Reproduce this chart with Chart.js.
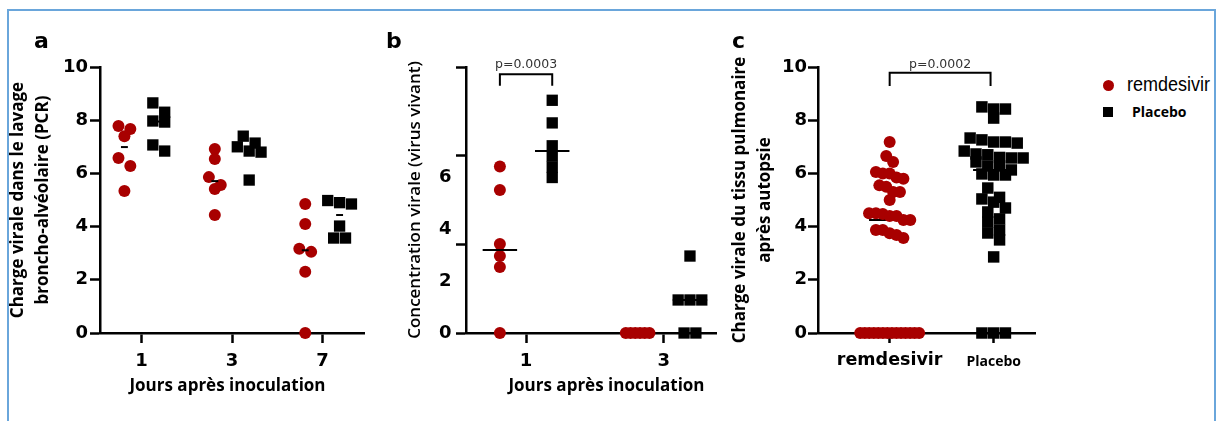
<!DOCTYPE html>
<html lang="fr">
<head>
<meta charset="utf-8">
<title>Remdesivir – charge virale</title>
<script src="https://cdn.jsdelivr.net/npm/chart.js@4.4.1/dist/chart.umd.min.js"></script>
<style>
html,body{margin:0;padding:0;background:#fff;}
body{width:1217px;height:421px;overflow:hidden;position:relative;}
#frame{position:absolute;left:7px;top:9px;width:1205px;height:420px;border:2px solid #6aa6db;border-bottom:none;}
canvas{position:absolute;top:0;}
#ca{left:0;} #cb{left:372px;} #cc{left:724px;}
.pl{position:absolute;top:30px;font-family:"DejaVu Sans";font-weight:bold;font-size:22px;line-height:22px;color:#000;}
.lg{position:absolute;white-space:nowrap;color:#000;}
</style>
</head>
<body>
<div id="frame"></div>
<canvas id="ca" width="372" height="421"></canvas>
<canvas id="cb" width="352" height="421"></canvas>
<canvas id="cc" width="320" height="421"></canvas>
<div class="pl" style="left:34px">a</div>
<div class="pl" style="left:386px">b</div>
<div class="pl" style="left:732px">c</div>
<div class="lg" style="left:1102.5px;top:80px;width:11px;height:11px;border-radius:50%;background:#a80000"></div>
<div class="lg" style="left:1127px;top:74px;font-family:'Liberation Sans';font-size:20px;line-height:20px;transform:scaleX(0.9);transform-origin:0 0">remdesivir</div>
<div class="lg" style="left:1103px;top:107px;width:10px;height:10px;background:#000"></div>
<div class="lg" style="left:1132px;top:102px;font-family:'Open Sans';font-weight:bold;font-size:14px;line-height:20px">Placebo</div>
<script>
// ---------------- Data ----------------
const aDays = ['1', '3', '7'];
const aRemdesivir = [
  [7.78, 7.67, 7.40, 6.58, 6.28, 5.34],
  [6.92, 6.54, 5.86, 5.56, 5.41, 4.44],
  [4.85, 4.10, 3.17, 3.05, 2.30, 0]
];
const aPlacebo = [
  [8.65, 8.30, 7.97, 7.93, 7.07, 6.84],
  [7.40, 7.14, 7.00, 6.84, 6.80, 5.75],
  [4.98, 4.90, 4.85, 4.02, 3.57, 3.57]
];
const acYTicks = [0, 2, 4, 6, 8, 10];

const bDays = ['1', '3'];
const bRemdesivir = [
  [6.40, 5.50, 3.42, 2.96, 2.54, 0],
  [0, 0, 0, 0, 0, 0]
];
const bPlacebo = [
  [8.95, 8.08, 7.20, 6.80, 6.38, 5.98],
  [2.96, 1.27, 1.27, 1.27, 0, 0]
];
const bYTickLabels = [0, 2, 4, 6];
const bYTickMarks = [0, 3.42, 6.84, 10.23];

const cGroups = ['remdesivir', 'Placebo'];
const cRemdesivir = [7.18, 6.65, 6.43, 6.05, 6.00, 6.00, 5.85, 5.80, 5.55, 5.50, 5.30, 5.30, 5.00,
  4.50, 4.50, 4.47, 4.40, 4.40, 4.25, 4.25, 3.87, 3.87, 3.75, 3.68, 3.57,
  0, 0, 0, 0, 0, 0, 0, 0, 0, 0, 0, 0, 0, 0];
const cPlacebo = [8.50, 8.42, 8.42, 8.08, 7.33, 7.26, 7.18, 7.18, 7.14, 6.84, 6.73, 6.70, 6.60, 6.58, 6.58,
  6.43, 6.28, 6.28, 6.13, 5.98, 5.94, 5.94, 5.45, 5.10, 5.04, 4.92, 4.70, 4.55, 4.29, 4.17,
  3.87, 3.76, 3.50, 2.86, 0, 0, 0];

const pValueB = 'p=0.0003';
const pValueC = 'p=0.0002';
const xTitleText = 'Jours après inoculation';

// ---------------- Helpers ----------------
const RED = '#a80000';
const tickFont = {family: '"DejaVu Sans"', weight: 'bold', size: 18, lineHeight: 1.2};
const titleFont = {family: '"Open Sans"', weight: 'bold', size: 17, lineHeight: 25 / 17};

function median(a) {
  const s = a.slice().sort((p, q) => p - q), n = s.length;
  return n % 2 ? s[(n - 1) / 2] : (s[n / 2 - 1] + s[n / 2]) / 2;
}

// column-scatter layout: values that would overlap vertically are set side by side
function swarm(values, center, pxX, pxY, spacing, maxSpan, binPx) {
  const sorted = values.slice().sort((p, q) => q - p);
  const rows = [];
  sorted.forEach(v => {
    const r = rows[rows.length - 1];
    if (r && (r[0] - v) * pxY < binPx) r.push(v); else rows.push([v]);
  });
  const out = [];
  rows.forEach(r => {
    const n = r.length;
    const sp = n > 1 ? Math.min(spacing, maxSpan / (n - 1)) : 0;
    r.forEach((v, i) => out.push({x: center + (i - (n - 1) / 2) * sp / pxX, y: v}));
  });
  return out;
}

const annot = {
  id: 'annot',
  afterDraw(chart, args, o) {
    const ctx = chart.ctx, xs = chart.scales.x, ca = chart.chartArea;
    ctx.save();
    if (o.bracket) {
      const b = o.bracket;
      const x1 = xs.getPixelForValue(b.from), x2 = xs.getPixelForValue(b.to);
      const yt = ca.top + b.top, yb = yt + b.leg;
      ctx.strokeStyle = '#000'; ctx.lineWidth = 2;
      ctx.beginPath(); ctx.moveTo(x1, yb); ctx.lineTo(x1, yt); ctx.lineTo(x2, yt); ctx.lineTo(x2, yb); ctx.stroke();
      ctx.fillStyle = '#333'; ctx.font = '12.5px "DejaVu Sans"';
      ctx.textAlign = 'center'; ctx.textBaseline = 'alphabetic';
      ctx.fillText(b.text, (x1 + x2) / 2, yt - b.gap);
    }
    if (o.xTitle) {
      ctx.fillStyle = '#000'; ctx.font = 'bold 17px "Open Sans"';
      ctx.textAlign = 'center'; ctx.textBaseline = 'alphabetic';
      ctx.fillText(o.xTitle, ca.left + o.xTitleDx, o.xTitleY);
    }
    ctx.restore();
  }
};

function xAxis(labels, min, max, font, pad) {
  return {
    type: 'linear', min, max,
    afterBuildTicks: s => { s.ticks = labels.map((_, i) => ({value: i})); },
    afterFit: s => { s.height = 88; },
    ticks: {autoSkip: false, maxRotation: 0, minRotation: 0, padding: pad, color: '#000', font,
      callback: v => (labels[v] !== undefined ? labels[v] : '')},
    grid: {drawOnChartArea: false, tickLength: 10, tickWidth: 2.5, tickColor: '#000'},
    border: {width: 2.5, color: '#000'}
  };
}

function yAxis(max, tickVals, width, pad, title, extra) {
  const ax = {
    type: 'linear', min: 0, max,
    afterBuildTicks: s => { s.ticks = tickVals.map(v => ({value: v})); },
    afterFit: s => { s.width = width; },
    ticks: {padding: pad, color: '#000', font: tickFont},
    grid: {drawOnChartArea: false, tickLength: 10, tickWidth: 2.5, tickColor: '#000'},
    border: {width: 2.5, color: '#000'},
    title: title
  };
  if (extra) extra(ax);
  return ax;
}

function panel(id, cfg) {
  const meta = [], datasets = [];
  cfg.series.forEach(s => {
    s.groups.forEach((vals, gi) => {
      const center = s.start + gi + s.offset;
      datasets.push({data: [], pointStyle: s.style, pointRadius: s.radius, pointHoverRadius: s.radius,
        backgroundColor: s.color, borderColor: s.color, borderWidth: 0, clip: false, order: 0});
      meta.push({kind: 'pts', vals, center, spacing: s.spacing});
      const m = median(vals);
      if (m > 0) {
        datasets.push({data: [], showLine: true, borderColor: '#000', borderWidth: 2, pointRadius: 0,
          pointHoverRadius: 0, clip: false, order: cfg.medianOnTop ? -1 : 1});
        meta.push({kind: 'med', m, center});
      }
    });
  });
  const chart = new Chart(document.getElementById(id), {
    type: 'scatter',
    data: {datasets},
    options: {
      responsive: false, animation: false, events: [],
      layout: {padding: cfg.padding},
      plugins: {legend: {display: false}, tooltip: {enabled: false}, annot: cfg.annot},
      scales: {x: cfg.x, y: cfg.y}
    },
    plugins: [annot]
  });
  const xs = chart.scales.x, ys = chart.scales.y;
  const pxX = Math.abs(xs.getPixelForValue(1) - xs.getPixelForValue(0));
  const pxY = Math.abs(ys.getPixelForValue(0) - ys.getPixelForValue(1));
  meta.forEach((mt, i) => {
    chart.data.datasets[i].data = mt.kind === 'pts'
      ? swarm(mt.vals, mt.center, pxX, pxY, mt.spacing, cfg.maxSpan, 10)
      : [{x: mt.center - cfg.medianHalf / pxX, y: mt.m}, {x: mt.center + cfg.medianHalf / pxX, y: mt.m}];
  });
  chart.update('none');
  return chart;
}

// ---------------- Panel a ----------------
panel('ca', {
  padding: {top: 67, right: 5, left: 0, bottom: 0},
  maxSpan: 24, medianHalf: 3.5, medianOnTop: true,
  series: [
    {groups: aRemdesivir, start: 0, offset: -0.19, style: 'circle', radius: 6, color: RED, spacing: 12},
    {groups: aPlacebo, start: 0, offset: 0.19, style: 'rect', radius: 8, color: '#000', spacing: 12}
  ],
  x: xAxis(aDays, -0.46, 2.46, tickFont, 8),
  y: yAxis(10, acYTicks, 100, 2, {display: true, text: ['Charge virale dans le lavage', 'broncho-alvéolaire (PCR)'],
    font: titleFont, color: '#000', padding: {top: 6, bottom: 0}}),
  annot: {xTitle: xTitleText, xTitleDx: 127.5, xTitleY: 391}
});

// ---------------- Panel b ----------------
const bAllTicks = Array.from(new Set(bYTickLabels.concat(bYTickMarks))).sort((p, q) => p - q);
panel('cb', {
  padding: {top: 67, right: 4, left: 0, bottom: 0},
  maxSpan: 24, medianHalf: 17.5, medianOnTop: true,
  series: [
    {groups: bRemdesivir, start: 0, offset: -0.19, style: 'circle', radius: 6, color: RED, spacing: 12},
    {groups: bPlacebo, start: 0, offset: 0.19, style: 'rect', radius: 8, color: '#000', spacing: 12}
  ],
  x: xAxis(bDays, -0.436, 1.379, tickFont, 8),
  y: yAxis(bYTickMarks[bYTickMarks.length - 1], bAllTicks, 94, 4.5,
    {display: true, text: 'Concentration virale (virus vivant)',
      font: {family: '"Open Sans"', weight: '600', size: 17, lineHeight: 25 / 17}, color: '#000', padding: {top: 31, bottom: 0}},
    ax => {
      ax.ticks.callback = v => (bYTickLabels.includes(v) ? String(v) : '');
      ax.grid.tickColor = c => (c.tick && bYTickMarks.includes(c.tick.value) ? '#000' : 'rgba(0,0,0,0)');
    }),
  annot: {bracket: {from: -0.19, to: 0.19, top: 7.3, leg: 11.4, gap: 6.5, text: pValueB},
    xTitle: xTitleText, xTitleDx: 140.5, xTitleY: 391}
});

// ---------------- Panel c ----------------
panel('cc', {
  padding: {top: 67, right: 4, left: 0, bottom: 0},
  maxSpan: 60, medianHalf: 21, medianOnTop: false,
  series: [
    {groups: [cRemdesivir], start: 0, offset: 0, style: 'circle', radius: 6, color: RED, spacing: 7},
    {groups: [cPlacebo], start: 1, offset: 0, style: 'rect', radius: 8.1, color: '#000', spacing: 12}
  ],
  x: xAxis(cGroups, -0.689, 1.406, c => (c.index === 0
    ? {family: '"DejaVu Sans"', weight: 'bold', size: 17.5, lineHeight: 1.2}
    : {family: '"Open Sans"', weight: 'bold', size: 14, lineHeight: 1.657}), 7),
  y: yAxis(10, acYTicks, 94, 1, {display: true, text: ['Charge virale du tissu pulmonaire', 'après autopsie'],
    font: titleFont, color: '#000', padding: {top: 4, bottom: 0}}),
  annot: {bracket: {from: 0, to: 0.97, top: 5.7, leg: 13.3, gap: 5, text: pValueC}}
});
</script>
</body>
</html>
